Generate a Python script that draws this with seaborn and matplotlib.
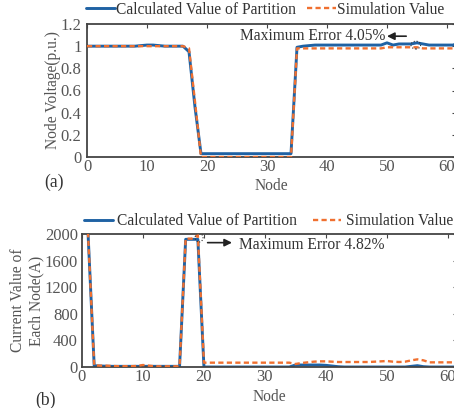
import numpy as np
import pandas as pd
import matplotlib
matplotlib.use("Agg")
import matplotlib.pyplot as plt
import seaborn as sns
from matplotlib.patches import Ellipse

sns.set_theme(style="white")
plt.rcParams['font.family'] = ['Liberation Serif', 'DejaVu Serif']
plt.rcParams['mathtext.fontset'] = 'stix'

nodes = list(range(0, 63))

volt_calc = [1.0, 1.0, 1.0, 1.0, 1.0, 1.0, 1.0, 1.0, 1.0, 1.005, 1.01, 1.01, 1.005, 1.0, 1.0, 1.0, 1.0,
             0.95, 0.45, 0.03, 0.03, 0.03, 0.03, 0.03, 0.03, 0.03, 0.03, 0.03, 0.03, 0.03, 0.03, 0.03, 0.03, 0.03, 0.03,
             0.99, 1.0, 1.005, 1.01, 1.01, 1.01, 1.01, 1.01, 1.01, 1.01, 1.01, 1.01, 1.01, 1.01, 1.01,
             1.03, 1.01, 1.02, 1.02, 1.02, 1.03, 1.02, 1.01, 1.01, 1.01, 1.01, 1.01, 1.03]
volt_sim = [1.0, 1.0, 1.0, 1.0, 1.0, 1.0, 1.0, 1.0, 1.0, 1.0, 1.0, 1.0, 1.0, 1.0, 1.0, 1.0, 1.0,
            0.98, 0.5, 0.0, 0.0, 0.0, 0.0, 0.0, 0.0, 0.0, 0.0, 0.0, 0.0, 0.0, 0.0, 0.0, 0.0, 0.0, 0.0,
            0.98, 0.98, 0.98, 0.98, 0.98, 0.98, 0.98, 0.98, 0.98, 0.98, 0.98, 0.98, 0.98, 0.98, 0.98,
            0.99, 0.99, 0.99, 0.99, 0.99, 0.99, 0.98, 0.98, 0.98, 0.98, 0.98, 0.98, 0.98]

curr_calc = [2400, 1990, 20, 15, 12, 10, 10, 10, 10, 10, 10, 10, 10, 10, 10, 10, 10,
             1920, 1920, 1920, 0, 0, 0, 0, 0, 0, 0, 0, 0, 0, 0, 0, 0, 0, 0,
             30, 30, 30, 30, 30, 25, 15, 5, 0, 0, 0, 0, 0, 0, 0,
             0, 0, 0, 0, 10, 20, 5, 0, 0, 0, 0, 0, 0]
curr_sim = [2400, 1990, 25, 20, 20, 15, 12, 12, 12, 15, 30, 20, 10, 10, 10, 10, 10,
            1930, 1930, 1980, 65, 65, 65, 65, 65, 65, 65, 65, 65, 65, 65, 65, 65, 65, 65,
            45, 60, 70, 80, 85, 85, 80, 75, 75, 75, 75, 75, 75, 80, 85,
            90, 80, 75, 80, 100, 115, 100, 70, 70, 70, 70, 70, 70]

labels = ["Calculated Value of Partition", "Simulation Value"]
blue = "#1f62a4"
orange = "#f07030"
gray = "#444444"

dfa = pd.DataFrame({"Node": nodes * 2, "val": volt_calc + volt_sim,
                    "Series": [labels[0]] * len(nodes) + [labels[1]] * len(nodes)})
dfb = pd.DataFrame({"Node": nodes * 2, "val": curr_calc + curr_sim,
                    "Series": [labels[0]] * len(nodes) + [labels[1]] * len(nodes)})

W, H = 454, 408
fig = plt.figure(figsize=(W / 100, H / 100), dpi=100)

fs = 11.2
tfs = 12

def style(ax, xlim, ypad):
    ax.set_xlim(*xlim)
    for s in ax.spines.values():
        s.set_color(gray)
        s.set_linewidth(1.3)
        s.set_visible(True)
    ax.tick_params(direction="in", top=True, right=True, length=3, width=0.8,
                   colors=gray, labelsize=tfs, labelcolor="#555555", pad=1.5)
    ax.tick_params(axis="y", pad=ypad)
    ax.set_xticks([0, 10, 20, 30, 40, 50, 60])

arrow_kw = dict(arrowstyle="-|>", color="#222222", lw=1.2, mutation_scale=11, shrinkA=0, shrinkB=0)

# Panel (a)
ax1 = fig.add_axes([87 / W, 251 / H, 369 / W, 133 / H])
sns.lineplot(data=dfa[dfa.Series == labels[1]], x="Node", y="val", ax=ax1, color=orange,
             linewidth=1.7, linestyle=(0, (2.2, 1.4)), label=labels[1], zorder=3)
sns.lineplot(data=dfa[dfa.Series == labels[0]], x="Node", y="val", ax=ax1, color=blue,
             linewidth=2.1, label=labels[0], zorder=2)
style(ax1, (0, 61.5), 4.0)
ax1.set_ylim(0, 1.2)
ax1.set_yticks([0, 0.2, 0.4, 0.6, 0.8, 1.0, 1.2])
ax1.set_yticklabels(["0", "0.2", "0.4", "0.6", "0.8", "1", "1.2"])
ax1.set_xlabel("Node", fontsize=fs, color="#555555", labelpad=2)
ax1.set_ylabel("Node Voltage(p.u.)", fontsize=fs, color="#555555", labelpad=0)
h, l = ax1.get_legend_handles_labels()
ax1.legend([h[1], h[0]], [l[1], l[0]], loc="lower left", bbox_to_anchor=(-0.02, 1.0), ncol=2,
           frameon=False, fontsize=fs, handlelength=1.85, handletextpad=0.1,
           columnspacing=0.7, borderaxespad=0, labelcolor="#333333")
ax1.add_patch(Ellipse((54.8, 1.01), 1.6, 0.07, fill=False, ls=":", lw=0.8, ec="#333333", zorder=4))
ax1.annotate("", xy=(50.0, 1.09), xytext=(53.2, 1.09), arrowprops=arrow_kw)
ax1.text(49.8, 1.09, "Maximum Error 4.05%", ha="right", va="center", fontsize=fs, color="#333333")
fig.text(44 / W, 1 - 182 / H, "(a)", fontsize=fs + 1.5, color="#333333", va="center")

# Panel (b)
ax2 = fig.add_axes([82 / W, 41 / H, 375 / W, 133 / H])
sns.lineplot(data=dfb[dfb.Series == labels[1]], x="Node", y="val", ax=ax2, color=orange,
             linewidth=1.7, linestyle=(0, (2.2, 1.4)), label=labels[1], zorder=3)
sns.lineplot(data=dfb[dfb.Series == labels[0]], x="Node", y="val", ax=ax2, color=blue,
             linewidth=2.1, label=labels[0], zorder=2)
style(ax2, (0, 61.5), 3.0)
ax2.set_ylim(0, 2000)
ax2.set_yticks([0, 400, 800, 1200, 1600, 2000])
ax2.set_xlabel("Node", fontsize=fs, color="#555555", labelpad=3)
ax2.set_ylabel("Current Value of\nEach Node(A)", fontsize=fs, color="#555555", labelpad=0,
               linespacing=1.25)
h, l = ax2.get_legend_handles_labels()
ax2.legend([h[1], h[0]], [l[1], l[0]], loc="lower left", bbox_to_anchor=(-0.012, 0.99), ncol=2,
           frameon=False, fontsize=fs, handlelength=1.85, handletextpad=0.3,
           columnspacing=1.0, borderaxespad=0, labelcolor="#333333")
ax2.add_patch(Ellipse((19.2, 1945), 1.3, 130, fill=False, ls=":", lw=0.8, ec="#333333", zorder=4))
ax2.annotate("", xy=(24.6, 1870), xytext=(20.6, 1870), arrowprops=arrow_kw)
ax2.text(25.8, 1840, "Maximum Error 4.82%", ha="left", va="center", fontsize=fs, color="#333333")
fig.text(35 / W, 1 - 400 / H, "(b)", fontsize=fs + 1.5, color="#333333", va="center")

fig.savefig("out.png", dpi=100)
